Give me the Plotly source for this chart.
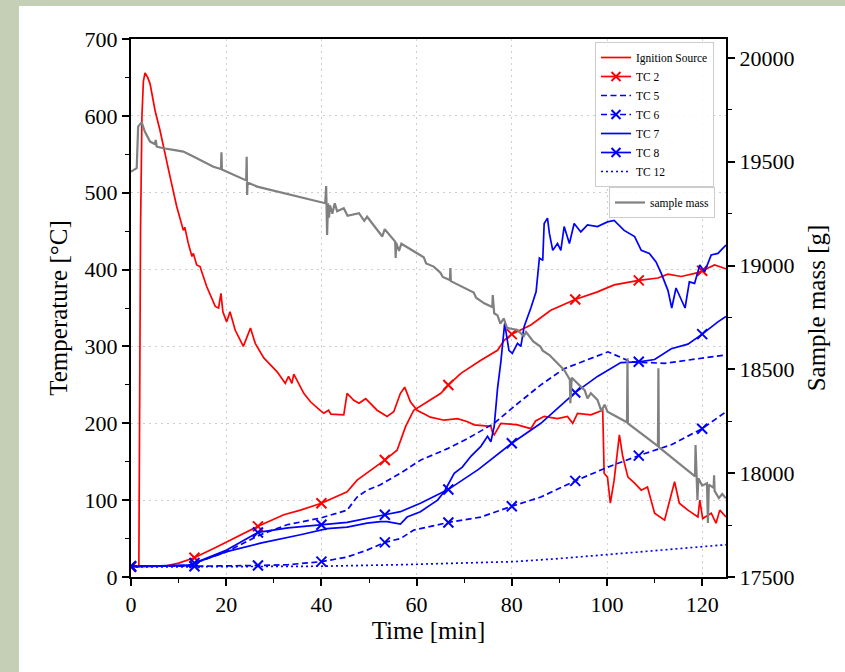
import plotly.graph_objects as go
import numpy as np

# ---------------- data ----------------
marker_t = [0, 13.33, 26.67, 40, 53.33, 66.67, 80, 93.33, 106.67, 120]

ign_t = [0, 1.65, 1.8, 2.0, 2.3, 2.6, 2.95, 3.5, 4.0, 5.05,
         6.1, 6.8, 8.2, 9.6, 11.0, 11.3, 12.0, 12.8, 13.1, 13.8,
         14.5, 15.9, 17.7, 18.4, 18.9, 19.3, 20.1, 20.8, 21.9, 23.6,
         24.4, 25.1, 26.1, 27.9, 29.3, 30.7, 32.4, 33.1, 33.8, 34.2,
         36.3, 37.7, 39.5, 40.5, 41.5, 42.0, 44.7, 45.4, 46.8, 47.9,
         49.3, 51.7, 53.8, 55.2, 56.6, 57.5, 58.7, 60.1, 62.9, 65.8,
         68.6, 70.7, 72.1, 74.9, 75.6, 76.0, 76.3, 77.7, 81.2, 84.0,
         85.0, 86.8, 89.6, 91.7, 92.8, 93.8, 96.6, 99.1, 99.4, 100.1,
         100.7, 101.5, 102.6, 103.3, 104.4, 105.8, 107.2, 108.5, 110.0, 112.1,
         114.2, 115.2, 117.0, 119.1, 119.5, 120.1, 121.9, 122.9, 123.7, 125]
ign_T = [13, 13, 200, 450, 600, 645, 656, 650, 642, 607,
         581, 560, 521, 482, 451, 455, 435, 417, 421, 406,
         404, 378, 352, 350, 369, 345, 332, 345, 321, 300,
         313, 324, 304, 285, 276, 267, 252, 261, 252, 264,
         239, 228, 218, 213, 217, 212, 211, 239, 230, 226,
         232, 217, 209, 215, 239, 247, 228, 217, 208, 204,
         206, 202, 198, 196, 196, 187, 185, 200, 198, 193,
         203, 209, 206, 209, 200, 213, 211, 217, 135, 130,
         96, 126, 185, 157, 130, 122, 113, 117, 83, 74,
         124, 96, 87, 78, 100, 76, 83, 70, 87, 78]

tc2_t = [0, 7, 10, 13.3, 18, 23.6, 26.7, 32.1, 35.6, 40, 45.4,
         47.5, 49.6, 53.3, 55.9, 57.7, 59.4, 62.3, 65.1, 66.7, 69.3,
         73.5, 77.0, 78.4, 80.0, 84.0, 88.2, 93.3, 98.0, 101.5, 106.7,
         110.7, 112.8, 115.6, 119.1, 122.6, 125]
tc2_T = [13, 14, 18, 25, 39, 57, 66, 81, 87, 96, 111,
         126, 135, 152, 165, 196, 217, 228, 239, 250, 265,
         282, 295, 308, 316, 328, 347, 361, 371, 380, 386,
         389, 394, 391, 396, 406, 401]

tc5_t = [0, 12, 20.1, 27.2, 32.8, 40, 45.4, 47.5, 49.6, 52.4,
         56.6, 60.8, 66.5, 70.7, 76.3, 80.5, 86.1, 91, 100.2, 105,
         112.1, 119.1, 125]
tc5_T = [14, 15, 33, 55, 68, 77, 87, 104, 113, 120,
         135, 152, 167, 180, 200, 222, 250, 271, 293, 280,
         278, 284, 289]

tc6_t = [0, 13.3, 26.7, 33, 40, 45.4, 49.6, 53.3, 56.6, 59.4,
         66.7, 73.5, 80, 86.1, 93.3, 100.2, 106.7, 113.5, 120, 125]
tc6_T = [14, 14, 15, 16, 20, 26, 35, 45, 50, 61,
         71, 78, 92, 104, 125, 143, 158, 172, 193, 215]

tc7_t = [0, 12, 20.1, 27.2, 35.6, 41.2, 45.4, 49.6, 52.4, 53.8,
         56.6, 58, 60.8, 64.4, 65.8, 67.9, 69.6, 71.4, 73.5, 74.9,
         75.6, 76.3, 77.0, 77.7, 78.5, 79.4, 80.1, 81.2, 81.9, 82.6,
         84, 85.1, 85.8, 86.5, 86.8, 87.5, 87.9, 88.6, 89.6, 90.3,
         91, 92.1, 93.1, 94.5, 95.9, 98, 100.1, 101.5, 103.6, 105.8,
         107.2, 108.9, 110.3, 111.4, 112.8, 113.6, 114.5, 115.6, 116.4, 117.3,
         118.4, 119.5, 120.5, 121.9, 123.3, 125]
tc7_T = [14, 15, 33, 44, 55, 63, 65, 70, 72, 72,
         69, 78, 85, 100, 111, 135, 143, 157, 170, 183,
         176, 196, 245, 280, 330, 295, 291, 304, 300, 326,
         350, 371, 415, 412, 460, 467, 447, 425, 434, 425,
         456, 434, 460, 449, 458, 456, 462, 464, 451, 443,
         425, 421, 410, 395, 373, 350, 376, 360, 350, 384,
         382, 406, 397, 419, 421, 432]

tc8_t = [0, 12, 20.1, 26.7, 33, 40, 45.4, 53.3, 56.6, 60.8,
         64.4, 66.7, 73, 80, 86.1, 93.3, 98, 102.9, 106.7, 110,
         113.5, 117, 120, 123.3, 125]
tc8_T = [14, 15, 35, 58, 64, 68, 71, 81, 85, 96,
         107, 114, 140, 174, 200, 240, 261, 279, 280, 283,
         297, 303, 316, 332, 339]

tc12_t = [0, 40, 56.6, 70, 80.5, 90, 100.1, 112.8, 125]
tc12_T = [13, 14, 16, 18, 20, 24, 29, 35, 42]

mass_t = [0, 1.2, 1.5, 2.25, 2.9, 4.0, 5.0, 5.2, 5.4, 6.8,
          8.9, 11.0, 13.1, 15.2, 17.3, 18.9, 19.0, 19.1, 20.1, 22.3,
          24.2, 24.3, 24.4, 24.5, 26.5, 29.3, 32.1, 34.9, 37.7, 40.8,
          41.0, 41.2, 41.4, 41.6, 41.8, 42.3, 42.8, 43.3, 44.7, 45.5,
          47.9, 49.0, 49.6, 51.7, 52.8, 53.3, 55.5, 55.6, 55.7, 56.3,
          56.8, 60.1, 61.5, 62.0, 63.6, 65.0, 65.5, 67.0, 67.1, 67.2,
          70.7, 72.0, 72.5, 74.2, 75.9, 76.0, 76.3, 77.0, 77.6, 78.3,
          79.0, 81.2, 82.5, 83.0, 84.5, 86.0, 86.5, 87.9, 91.0, 92.2,
          92.3, 92.6, 94.5, 95.3, 95.9, 96.6, 98.0, 98.8, 99.5, 100.1,
          104.2, 104.3, 104.4, 107.2, 110.7, 110.8, 110.9, 114.2, 117.7, 118.5,
          118.6, 118.8, 119.0, 119.2, 120.0, 121.0, 121.2, 121.4, 122.4, 122.5,
          122.6, 123.5, 124.2, 125]
mass_m = [19452, 19469, 19669, 19690, 19645, 19597, 19585, 19605, 19573, 19565,
          19557, 19549, 19525, 19500, 19476, 19465, 19545, 19462, 19452, 19428,
          19410, 19524, 19340, 19400, 19380, 19364, 19348, 19332, 19316, 19300,
          19383, 19147, 19300, 19230, 19290, 19250, 19300, 19262, 19276, 19240,
          19252, 19215, 19235, 19171, 19140, 19175, 19115, 19037, 19110, 19070,
          19105, 19059, 19040, 19010, 18995, 18965, 18945, 18930, 18988, 18925,
          18882, 18870, 18845, 18818, 18800, 18858, 18770, 18760, 18720, 18745,
          18700, 18690, 18660, 18680, 18635, 18610, 18590, 18569, 18497, 18450,
          18337, 18460, 18417, 18400, 18360, 18385, 18353, 18300, 18330, 18296,
          18245, 18553, 18240, 18192, 18130, 18505, 18125, 18064, 17999, 17985,
          18136, 17980, 17871, 17975, 17940, 17951, 17760, 17945, 17930, 17990,
          17915, 17880, 17900, 17879]

x_ticks = [0, 20, 40, 60, 80, 100, 120]
y_ticks = [0, 100, 200, 300, 400, 500, 600, 700]
y2_ticks = [17500, 18000, 18500, 19000, 19500, 20000]

# ---------------- styles ----------------
RED = "#ff0000"
BLUE = "#0000ff"
GREY = "#808080"
FONT = "Liberation Serif"
DASH = "6px,3.5px"
DOT = "2px,3px"
BG = "#c5cfb6"

series = [
    ("Ignition Source", ign_t, ign_T, RED, "solid", False),
    ("TC 2", tc2_t, tc2_T, RED, "solid", True),
    ("TC 5", tc5_t, tc5_T, BLUE, DASH, False),
    ("TC 6", tc6_t, tc6_T, BLUE, DASH, True),
    ("TC 7", tc7_t, tc7_T, BLUE, "solid", False),
    ("TC 8", tc8_t, tc8_T, BLUE, "solid", True),
    ("TC 12", tc12_t, tc12_T, BLUE, DOT, False),
]

fig = go.Figure()

for name, xs, ys, col, dash, marked in series:
    fig.add_trace(go.Scatter(x=xs, y=ys, mode="lines", showlegend=False,
                             line=dict(color=col, width=1.7, dash=dash),
                             hoverinfo="skip"))
    if marked:
        my = np.interp(marker_t, xs, ys)
        fig.add_trace(go.Scatter(x=marker_t, y=my, mode="markers", showlegend=False,
                                 marker=dict(symbol="x-thin", size=10, color=col,
                                             line=dict(color=col, width=2)),
                                 hoverinfo="skip"))

# legend entries
for name, xs, ys, col, dash, marked in series:
    fig.add_trace(go.Scatter(x=[None], y=[None], name=name,
                             mode="lines+markers" if marked else "lines",
                             line=dict(color=col, width=1.7, dash=dash),
                             marker=dict(symbol="x-thin", size=9, color=col,
                                         line=dict(color=col, width=2)),
                             legend="legend"))

fig.add_trace(go.Scatter(x=mass_t, y=mass_m, mode="lines", name="sample mass",
                         line=dict(color=GREY, width=2.2), yaxis="y2",
                         legend="legend2"))

W, H = 845, 672
L, R, T, B = 131, 119, 39, 95
pw, ph = W - L - R, H - T - B

def px_x(p):
    return (p - L) / pw

def px_y(p):
    return (H - B - p) / ph

TICK_SIZE = 22
TITLE_SIZE = 25

axis_common = dict(
    showline=True, linecolor="black", linewidth=2,
    ticks="outside", ticklen=7, tickwidth=1.5, tickcolor="black",
    tickfont=dict(family=FONT, size=TICK_SIZE, color="black"),
    zeroline=False,
)

fig.update_layout(
    width=W, height=H,
    margin=dict(l=L, r=R, t=T, b=B),
    paper_bgcolor=BG,
    plot_bgcolor="white",
    font=dict(family=FONT, color="black"),
    xaxis=dict(
        range=[0, 125], tickvals=x_ticks, mirror=True,
        showgrid=True, gridcolor="#cfcfcf", griddash="2px,4px", gridwidth=1.2,
        minor=dict(ticks="outside", ticklen=4, tickwidth=1.2, tickcolor="black", dtick=10, tick0=0, showgrid=False),
        title=dict(text="Time [min]", font=dict(family=FONT, size=TITLE_SIZE), standoff=4),
        **axis_common,
    ),
    yaxis=dict(
        range=[0, 700], tickvals=y_ticks,
        showgrid=True, gridcolor="#cfcfcf", griddash="2px,4px", gridwidth=1.2,
        minor=dict(ticks="outside", ticklen=4, tickwidth=1.2, tickcolor="black", dtick=50, tick0=0, showgrid=False),
        title=dict(text="Temperature [°C]", font=dict(family=FONT, size=TITLE_SIZE), standoff=10),
        **axis_common,
    ),
    yaxis2=dict(
        range=[17500, 20091], tickvals=y2_ticks, tickformat="d", overlaying="y", side="right",
        showgrid=False,
        minor=dict(ticks="outside", ticklen=4, tickwidth=1.2, tickcolor="black", dtick=250, tick0=17500, showgrid=False),
        title=dict(text="Sample mass [g]", font=dict(family=FONT, size=TITLE_SIZE), standoff=14),
        **axis_common,
    ),
    legend=dict(
        x=px_x(714), y=px_y(42), xanchor="right", yanchor="top",
        bgcolor="rgba(255,255,255,0.85)", bordercolor="#cccccc", borderwidth=1,
        font=dict(family=FONT, size=11.5, color="black"),
        itemwidth=30, tracegroupgap=0,
    ),
    legend2=dict(
        x=px_x(715), y=px_y(187), xanchor="right", yanchor="top",
        bgcolor="rgba(255,255,255,0.85)", bordercolor="#cccccc", borderwidth=1,
        font=dict(family=FONT, size=11.5, color="black"),
        itemwidth=30,
    ),
    shapes=[dict(type="rect", xref="paper", yref="paper", layer="below",
                 x0=px_x(19), x1=1.3, y0=-0.3, y1=px_y(6),
                 fillcolor="white", line=dict(width=0))],
)

fig.write_html(
    "out.html",
    config={"displayModeBar": False},
    post_script="document.body.style.margin='0';document.body.style.background='" + BG + "';",
)
